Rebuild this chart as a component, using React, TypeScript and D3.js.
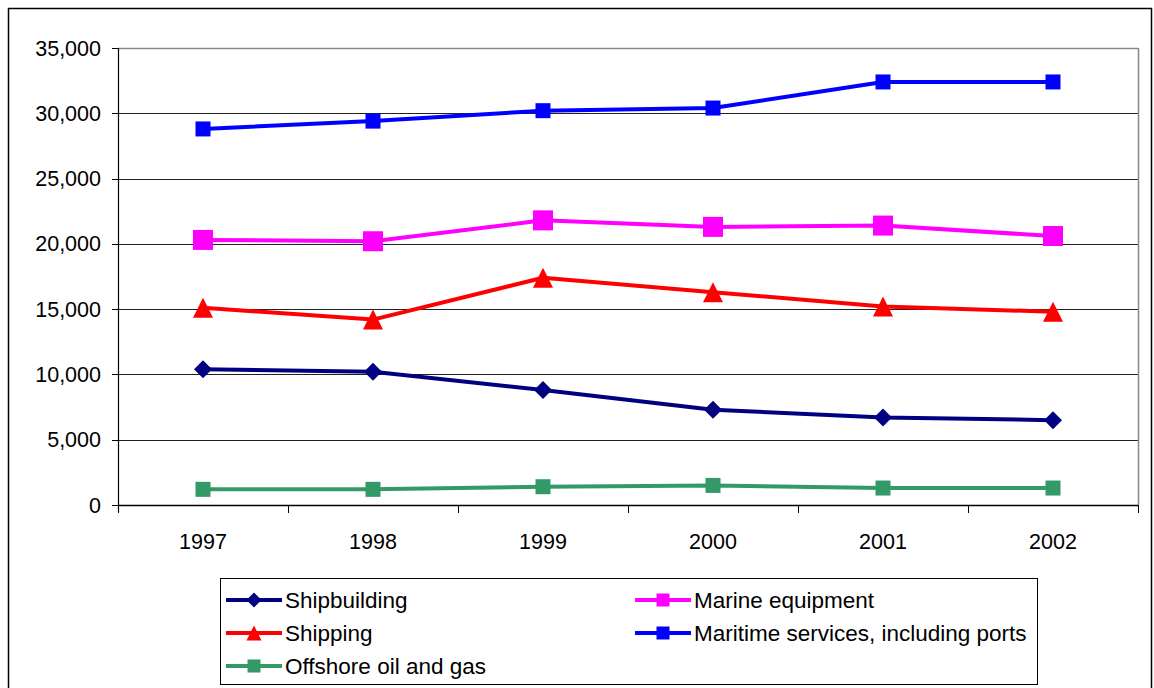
import React from "react";
import * as d3 from "d3";

const years = ["1997", "1998", "1999", "2000", "2001", "2002"];
const shipbuilding = [10400, 10200, 8800, 7300, 6700, 6500];
const marineEquipment = [20300, 20200, 21800, 21300, 21400, 20600];
const shipping = [15100, 14200, 17400, 16300, 15200, 14800];
const maritimeServices = [28800, 29400, 30200, 30400, 32400, 32400];
const offshore = [1200, 1200, 1400, 1500, 1300, 1300];
const yTicks = [0, 5000, 10000, 15000, 20000, 25000, 30000, 35000];

type Marker = "diamond" | "square" | "triangle";
interface Series {
  name: string;
  values: number[];
  color: string;
  marker: Marker;
  size: number;
}

const series: Series[] = [
  { name: "Maritime services, including ports", values: maritimeServices, color: "#0000FF", marker: "square", size: 15 },
  { name: "Marine equipment", values: marineEquipment, color: "#FF00FF", marker: "square", size: 20 },
  { name: "Shipping", values: shipping, color: "#FF0000", marker: "triangle", size: 20 },
  { name: "Shipbuilding", values: shipbuilding, color: "#000080", marker: "diamond", size: 18 },
  { name: "Offshore oil and gas", values: offshore, color: "#339966", marker: "square", size: 15 },
];

// legend order: two columns, row by row
const legendOrder = [
  "Shipbuilding",
  "Marine equipment",
  "Shipping",
  "Maritime services, including ports",
  "Offshore oil and gas",
];

const FONT = "'Liberation Sans', Arial, sans-serif";

const markerPath = (m: Marker, s: number) => {
  const h = s / 2;
  if (m === "square") return `M${-h},${-h}H${h}V${h}H${-h}Z`;
  if (m === "diamond") return `M0,${-h}L${h},0L0,${h}L${-h},0Z`;
  return `M0,${-h}L${h},${h}L${-h},${h}Z`;
};

const App: React.FC = () => {
  const left = 118;
  const right = 1138;
  const top = 48;
  const bottom = 505;

  const x = d3.scaleBand<string>().domain(years).range([left, right]);
  const y = d3.scaleLinear().domain([0, 35000]).range([bottom, top]);
  const fmt = d3.format(",");

  const line = d3
    .line<number>()
    .x((_, i) => (x(years[i]) ?? 0) + x.bandwidth() / 2)
    .y((d) => y(d));

  const boundaries = years.map((yr) => x(yr) ?? 0).concat([right]);

  const legendX = [226, 635];
  const legendY = [600, 633, 666];

  return (
    <svg
      width={1154}
      height={688}
      style={{ position: "absolute", left: 0, top: 0, background: "#fff" }}
      fontFamily={FONT}
    >
      <rect x={8.5} y={8.5} width={1143} height={700} fill="#fff" stroke="#000" strokeWidth={1.5} />

      {/* gridlines */}
      {yTicks.map((t) => (
        <line
          key={t}
          x1={left}
          x2={right}
          y1={Math.round(y(t)) + 0.5}
          y2={Math.round(y(t)) + 0.5}
          stroke={t === 35000 ? "#888" : "#222"}
          strokeWidth={t === 35000 ? 1.5 : 1}
        />
      ))}
      <line x1={right + 0.5} x2={right + 0.5} y1={top} y2={bottom} stroke="#888" strokeWidth={1.5} />

      {/* y axis */}
      <line x1={left + 0.5} x2={left + 0.5} y1={top} y2={bottom + 7} stroke="#000" strokeWidth={1.2} />
      {yTicks.map((t) => (
        <g key={t}>
          <line x1={left - 6} x2={left} y1={Math.round(y(t)) + 0.5} y2={Math.round(y(t)) + 0.5} stroke="#000" />
          <text x={101} y={y(t)} dy="0.35em" textAnchor="end" fontSize={21.5} fill="#000">
            {fmt(t)}
          </text>
        </g>
      ))}

      {/* x axis */}
      <line x1={left} x2={right} y1={bottom + 0.5} y2={bottom + 0.5} stroke="#000" strokeWidth={1.5} />
      {boundaries.map((b, i) => (
        <line key={i} x1={b + 0.5} x2={b + 0.5} y1={bottom} y2={bottom + 8} stroke="#000" />
      ))}
      {years.map((yr) => (
        <text
          key={yr}
          x={(x(yr) ?? 0) + x.bandwidth() / 2}
          y={541}
          dy="0.35em"
          textAnchor="middle"
          fontSize={21.5}
          fill="#000"
        >
          {yr}
        </text>
      ))}

      {/* series */}
      {series.map((s) => (
        <g key={s.name}>
          <path d={line(s.values) ?? ""} fill="none" stroke={s.color} strokeWidth={4} strokeLinejoin="round" />
          {s.values.map((v, i) => (
            <path
              key={i}
              d={markerPath(s.marker, s.size)}
              transform={`translate(${(x(years[i]) ?? 0) + x.bandwidth() / 2},${y(v)})`}
              fill={s.color}
            />
          ))}
        </g>
      ))}

      {/* legend */}
      <rect x={220.5} y={578.5} width={817} height={106} fill="#fff" stroke="#000" strokeWidth={1} />
      {legendOrder.map((name, i) => {
        const s = series.find((d) => d.name === name)!;
        const lx = legendX[i % 2];
        const ly = legendY[Math.floor(i / 2)];
        return (
          <g key={name}>
            <line x1={lx} x2={lx + 56} y1={ly} y2={ly} stroke={s.color} strokeWidth={4} />
            <path
              d={markerPath(s.marker, s.marker === "triangle" ? 15 : s.name === "Shipbuilding" ? 15 : 13)}
              transform={`translate(${lx + 28},${ly})`}
              fill={s.color}
            />
            <text x={lx + 59} y={ly} dy="0.35em" fontSize={22.5} fill="#000">
              {name}
            </text>
          </g>
        );
      })}
    </svg>
  );
};

export default App;
